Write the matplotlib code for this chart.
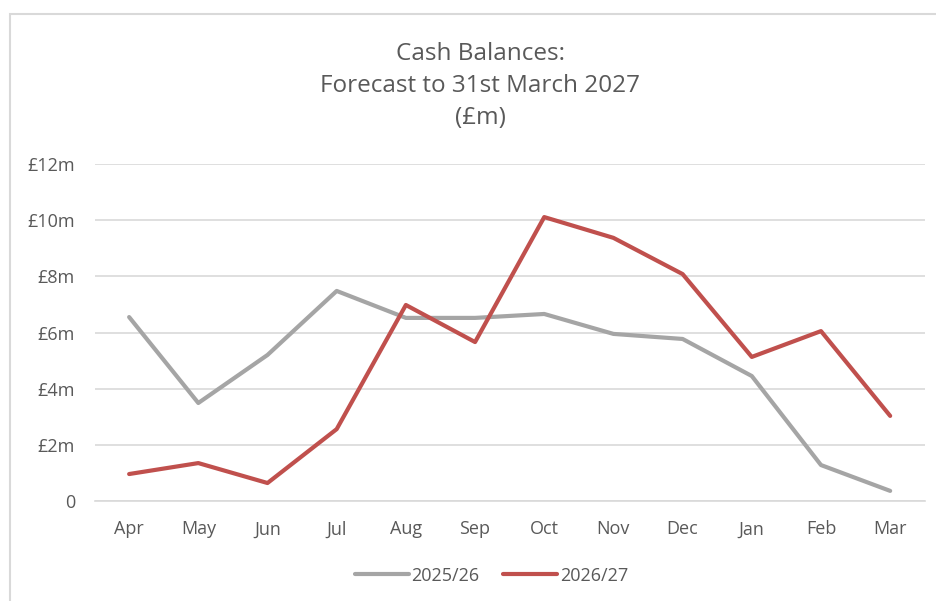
from matplotlib import pyplot as plt
from matplotlib.patches import Rectangle

months = ['Apr', 'May', 'Jun', 'Jul', 'Aug', 'Sep', 'Oct', 'Nov', 'Dec', 'Jan', 'Feb', 'Mar']
bal_2526 = [6.55, 3.49, 5.20, 7.48, 6.52, 6.52, 6.66, 5.95, 5.77, 4.45, 1.28, 0.36]
bal_2627 = [0.96, 1.35, 0.64, 2.56, 6.98, 5.66, 10.11, 9.37, 8.08, 5.13, 6.05, 3.03]
y_ticks = [0, 2, 4, 6, 8, 10, 12]
y_labels = ['0', '£2m', '£4m', '£6m', '£8m', '£10m', '£12m']

text_col = '#595959'
plt.rcParams['font.family'] = ['Open Sans', 'DejaVu Sans']

fig = plt.figure(figsize=(9.36, 6.01), dpi=100)
fig.patches.append(Rectangle((10 / 936, -0.1), 1.1, 1 - 14 / 601 + 0.1, transform=fig.transFigure,
                             fill=False, edgecolor='#d9d9d9', linewidth=1.5))

ax = fig.add_axes([0.101, 0.1664, 0.887, 0.5607])
x = range(len(months))
ax.plot(x, bal_2526, color='#a5a5a5', linewidth=3, label='2025/26', solid_capstyle='round')
ax.plot(x, bal_2627, color='#c0504d', linewidth=3, label='2026/27', solid_capstyle='round')

ax.set_xlim(-0.5, 11.5)
ax.set_ylim(0, 12)
ax.set_yticks(y_ticks)
ax.set_yticklabels(y_labels)
ax.set_xticks(list(x))
ax.set_xticklabels(months)
ax.tick_params(length=0, labelsize=13, colors=text_col)
ax.tick_params(axis='x', pad=14)
ax.tick_params(axis='y', pad=14)
ax.grid(axis='y', color='#d9d9d9', linewidth=1.2)
ax.set_axisbelow(True)
for side in ['top', 'right', 'left']:
    ax.spines[side].set_visible(False)
ax.spines['bottom'].set_color('#d9d9d9')
ax.spines['bottom'].set_linewidth(1.2)

fig.text(0.513, 0.857, 'Cash Balances:\nForecast to 31st March 2027\n(£m)', ha='center', va='center',
         fontsize=17.5, color=text_col, linespacing=1.45)

leg = fig.legend(loc='center', bbox_to_anchor=(0.525, 0.042), ncol=2, frameon=False, fontsize=13,
                 handlelength=3.0, columnspacing=1.3, handletextpad=0.15)
for t in leg.get_texts():
    t.set_color(text_col)

plt.savefig('out.png', dpi=100)
